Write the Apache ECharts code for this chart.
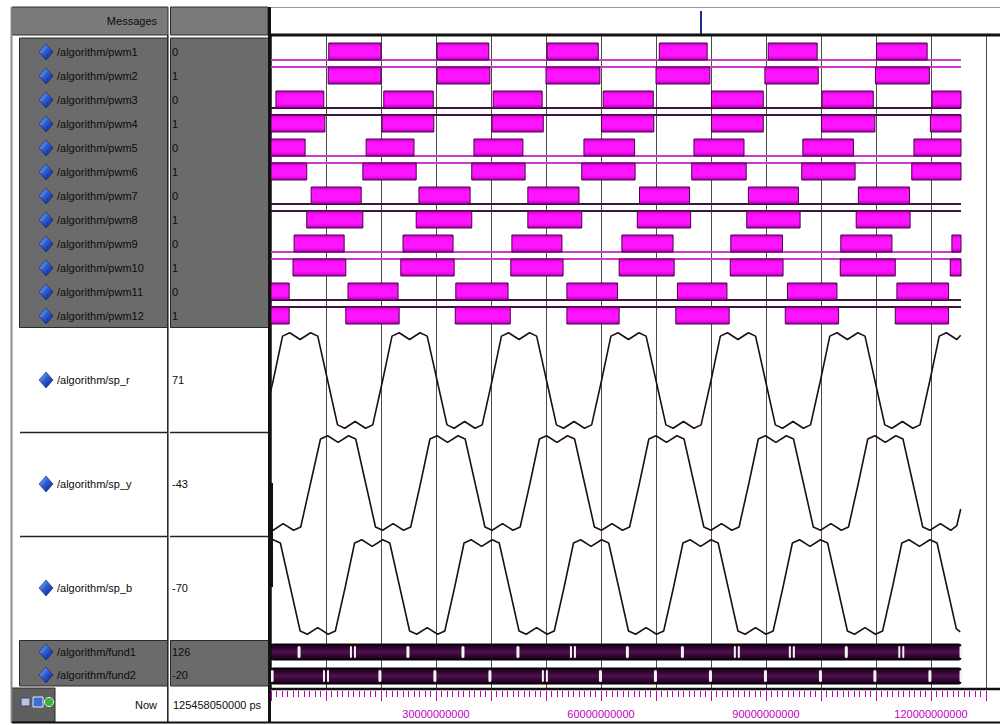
<!DOCTYPE html>
<html>
<head>
<meta charset="utf-8">
<script src="https://cdn.jsdelivr.net/npm/echarts/dist/echarts.min.js"></script>
<style>html,body{margin:0;padding:0;background:#fff}#c{width:1000px;height:725px}</style>
</head>
<body>
<div id="c"></div>
<script>
// ---- data (time unit: 1e9 ps) ----
const nowTime = 125.458;
const nowLabel = '125458050000 ps';
const timeLabelValues = [30, 60, 90, 120];
const pwmNames = ['/algorithm/pwm1','/algorithm/pwm2','/algorithm/pwm3','/algorithm/pwm4','/algorithm/pwm5','/algorithm/pwm6',
  '/algorithm/pwm7','/algorithm/pwm8','/algorithm/pwm9','/algorithm/pwm10','/algorithm/pwm11','/algorithm/pwm12'];
const pwmValues = ['0','1','0','1','0','1','0','1','0','1','0','1'];
const END = nowTime;
const pwm1 = [[10.5,20.0],[30.2,39.6],[50.2,59.5],[70.6,79.3],[90.4,99.3],[110.1,119.3]];
const pwm2 = [[10.4,20.0],[30.2,39.8],[50.0,59.8],[70.0,79.8],[89.8,99.5],[109.9,119.7]];
const pwm3 = [[0.9,9.6],[20.5,29.5],[40.4,49.3],[60.4,69.5],[80.1,89.5],[100.2,109.5],[120.2,END]];
const pwm4 = [[0,9.8],[20.2,29.6],[40.2,49.5],[60.1,69.6],[80.1,89.5],[100.1,109.8],[119.9,END]];
const pwm5 = [[0,6.2],[17.3,26.0],[36.9,45.8],[56.9,66.1],[76.9,86.0],[96.7,105.9],[116.9,END]];
const pwm6 = [[0,6.5],[16.7,26.4],[36.5,46.2],[56.5,66.2],[76.5,86.4],[96.5,106.2],[116.5,END]];
const pwm7 = [[7.3,16.4],[26.9,36.2],[46.7,56.0],[67.0,76.1],[86.8,95.9],[106.8,116.1]];
const pwm8 = [[6.5,16.7],[26.4,36.5],[46.7,56.5],[66.6,76.3],[86.5,96.2],[106.4,116.2]];
const pwm9 = [[4.2,13.3],[24.0,33.1],[43.8,52.9],[63.8,73.1],[83.6,93.0],[103.6,112.9],[123.8,END]];
const pwm10 = [[4.0,13.6],[23.6,33.3],[43.6,53.1],[63.3,73.3],[83.5,93.1],[103.5,113.5],[123.5,END]];
const pwm11 = [[0,3.3],[14.0,23.1],[33.6,43.1],[53.8,63.0],[73.9,82.9],[93.9,102.9],[113.8,123.2]];
const pwm12 = [[0,3.3],[13.6,23.3],[33.5,43.5],[53.8,63.3],[73.6,83.3],[93.5,103.2],[113.5,123.2]];
const pwmBoxes = [pwm1,pwm2,pwm3,pwm4,pwm5,pwm6,pwm7,pwm8,pwm9,pwm10,pwm11,pwm12];

const spNames = ['/algorithm/sp_r','/algorithm/sp_y','/algorithm/sp_b'];
const spValues = ['71','-43','-70'];
const spR = [[-1.5,-93],[0.4,0],[2.1,93],[3.4,100],
[5.3,86],[7.2,100],[8.5,93],[10.3,0],[12.1,-93],[13.4,-100],[15.3,-86],[17.2,-100],[18.5,-93],[20.3,0],[22.0,93],[23.3,100],
[25.2,86],[27.1,100],[28.4,93],[30.2,0],[32.0,-93],[33.3,-100],[35.2,-86],[37.1,-100],[38.4,-93],[40.2,0],[41.9,93],[43.2,100],
[45.1,86],[47.0,100],[48.3,93],[50.1,0],[51.9,-93],[53.2,-100],[55.1,-86],[57.0,-100],[58.3,-93],[60.1,0],[61.8,93],[63.1,100],
[65.0,86],[66.9,100],[68.2,93],[70.0,0],[71.8,-93],[73.1,-100],[75.0,-86],[76.9,-100],[78.2,-93],[80.0,0],[81.7,93],[83.0,100],
[84.9,86],[86.8,100],[88.1,93],[89.9,0],[91.7,-93],[93.0,-100],[94.9,-86],[96.8,-100],[98.1,-93],[99.9,0],[101.6,93],[102.9,100],
[104.8,86],[106.7,100],[108.0,93],[109.8,0],[111.6,-93],[112.9,-100],[114.8,-86],[116.7,-100],[118.0,-93],[119.8,0],[121.5,93],[122.8,100],
[124.7,86],[125.4,95]];
const spY = [[-1.0,-93],[0.4,-100],[2.2,-86],[4.1,-100],[5.4,-93],[7.2,0],[9.0,93],[10.3,100],
[12.2,86],[14.1,100],[15.4,93],[17.2,0],[19.0,-93],[20.3,-100],[22.2,-86],[24.1,-100],[25.4,-93],[27.2,0],[28.9,93],[30.2,100],
[32.1,86],[34.0,100],[35.3,93],[37.1,0],[38.9,-93],[40.2,-100],[42.1,-86],[44.0,-100],[45.3,-93],[47.1,0],[48.8,93],[50.1,100],
[52.0,86],[53.9,100],[55.2,93],[57.0,0],[58.8,-93],[60.1,-100],[62.0,-86],[63.9,-100],[65.2,-93],[67.0,0],[68.7,93],[70.0,100],
[71.9,86],[73.8,100],[75.1,93],[76.9,0],[78.7,-93],[80.0,-100],[81.9,-86],[83.8,-100],[85.1,-93],[86.9,0],[88.6,93],[89.9,100],
[91.8,86],[93.7,100],[95.0,93],[96.8,0],[98.6,-93],[99.9,-100],[101.8,-86],[103.7,-100],[105.0,-93],[106.8,0],[108.5,93],[109.8,100],
[111.7,86],[113.6,100],[114.9,93],[116.7,0],[118.5,-93],[119.8,-100],[121.7,-86],[123.6,-100],[124.7,-90],[125.4,-55]];
const spB = [[-1.5,86],[0.4,100],[1.7,93],[3.5,0],[5.3,-93],[6.6,-100],[8.5,-86],[10.4,-100],[11.7,-93],[13.5,0],[15.2,93],[16.5,100],
[18.4,86],[20.3,100],[21.6,93],[23.4,0],[25.2,-93],[26.5,-100],[28.4,-86],[30.3,-100],[31.6,-93],[33.4,0],[35.1,93],[36.4,100],
[38.3,86],[40.2,100],[41.5,93],[43.3,0],[45.1,-93],[46.4,-100],[48.3,-86],[50.2,-100],[51.5,-93],[53.3,0],[55.0,93],[56.3,100],
[58.2,86],[60.1,100],[61.4,93],[63.2,0],[65.0,-93],[66.3,-100],[68.2,-86],[70.1,-100],[71.4,-93],[73.2,0],[74.9,93],[76.2,100],
[78.1,86],[80.0,100],[81.3,93],[83.1,0],[84.9,-93],[86.2,-100],[88.1,-86],[90.0,-100],[91.3,-93],[93.1,0],[94.8,93],[96.1,100],
[98.0,86],[99.9,100],[101.2,93],[103.0,0],[104.8,-93],[106.1,-100],[108.0,-86],[109.9,-100],[111.2,-93],[113.0,0],[114.7,93],[116.0,100],
[117.9,86],[119.8,100],[121.1,93],[122.9,0],[124.6,-88],[125.3,-95]];

const fundNames = ['/algorithm/fund1','/algorithm/fund2'];
const fundValues = ['126','-20'];
const fund1Marks = [5.1,14.9,24.9,34.9,44.9,54.9,64.8,74.8,84.7,94.7,104.6,114.6];
const fund1Double = [14.9,54.9,84.7,94.7,114.6];
const fund2Marks = [0.2,10.0,19.8,29.8,39.8,49.8,59.9,69.9,79.9,89.9,99.9,109.8,119.8];
const fund2Double = [10.0,49.8];

// ---- chart ----
const FONT = '"Liberation Sans", Arial, sans-serif';
const TMAX = 130;
const WL = 271, WW = 715;
const chart = echarts.init(document.getElementById('c'), null, {renderer: 'svg', width: 1000, height: 725});

const grids = [
  {left: WL, top: 36, width: WW, height: 653},
  {left: WL, top: 40, width: WW, height: 288},
  {left: WL, top: 328, width: WW, height: 105},
  {left: WL, top: 431, width: WW, height: 104},
  {left: WL, top: 535, width: WW, height: 104},
  {left: WL, top: 640, width: WW, height: 48},
  {left: WL, top: 691, width: WW, height: 20}
];
const xAxes = grids.map((g, i) => ({type: 'value', gridIndex: i, min: 0, max: TMAX, interval: 10, show: false}));
xAxes[0] = {type: 'value', gridIndex: 0, min: 0, max: TMAX, interval: 10,
  axisLine: {show: false}, axisTick: {show: false}, axisLabel: {show: false},
  splitLine: {show: true, lineStyle: {color: '#4a4a4a', width: 1}}};
xAxes[6] = {type: 'value', gridIndex: 6, position: 'top', min: 0, max: TMAX, interval: 10,
  axisLine: {show: false, onZero: false},
  axisTick: {show: true, inside: true, length: 10, lineStyle: {color: '#c000c0', width: 1}},
  minorTick: {show: true, splitNumber: 10, length: 6, lineStyle: {color: '#c000c0', width: 1}},
  splitLine: {show: false}, minorSplitLine: {show: false},
  axisLabel: {show: true, inside: true, margin: 17, color: '#c000c0', fontSize: 11, fontFamily: FONT,
    formatter: v => timeLabelValues.includes(v) ? (v * 1e9).toFixed(0) : ''}};
const yAxes = [
  {type: 'value', gridIndex: 0, min: 0, max: 1, show: false},
  {type: 'category', gridIndex: 1, data: pwmNames, inverse: true, show: false},
  {type: 'value', gridIndex: 2, min: -110, max: 110, show: false},
  {type: 'value', gridIndex: 3, min: -110, max: 110, show: false},
  {type: 'value', gridIndex: 4, min: -110, max: 110, show: false},
  {type: 'category', gridIndex: 5, data: fundNames, inverse: true, show: false},
  {type: 'value', gridIndex: 6, min: 0, max: 1, show: false}
];

function clip(shape, params) {
  const cs = params.coordSys;
  return echarts.graphic.clipRectByRect(shape, {x: cs.x, y: cs.y, width: cs.width, height: cs.height});
}
const boxFill = {type: 'linear', x: 0, y: 0, x2: 0, y2: 1, colorStops: [
  {offset: 0, color: '#c800c8'}, {offset: 0.25, color: '#ff14ff'}, {offset: 0.75, color: '#ff14ff'}, {offset: 1, color: '#b000b0'}]};
const fundFill = {type: 'linear', x: 0, y: 0, x2: 0, y2: 1, colorStops: [
  {offset: 0, color: '#0c000c'}, {offset: 0.3, color: '#3a0638'}, {offset: 0.5, color: '#4e1250'}, {offset: 0.7, color: '#3a0638'}, {offset: 1, color: '#0c000c'}]};

const series = [
  { // pwm level lines
    type: 'custom', xAxisIndex: 1, yAxisIndex: 1, z: 2, silent: true,
    encode: {x: [0, 1], y: 2},
    data: pwmNames.map((n, i) => [0, nowTime, i]),
    renderItem: (params, api) => {
      const i = api.value(2);
      const a = api.coord([api.value(0), i]), b = api.coord([api.value(1), i]);
      const y = a[1] + (i % 2 === 0 ? 8 : -9);
      const col = Math.floor(i / 2) % 2 === 0 ? '#cc3ccc' : '#3a183a';
      return {type: 'line', shape: {x1: a[0], y1: y, x2: b[0], y2: y}, style: {stroke: col, lineWidth: 2}};
    }
  },
  { // pwm high boxes
    type: 'custom', xAxisIndex: 1, yAxisIndex: 1, z: 3, silent: true,
    encode: {x: [0, 1], y: 2},
    data: pwmBoxes.flatMap((list, i) => list.map(([s, e]) => [s, e, i])),
    renderItem: (params, api) => {
      const i = api.value(2);
      const a = api.coord([api.value(0), i]), b = api.coord([api.value(1), i]);
      const shape = clip({x: a[0], y: a[1] - 9, width: b[0] - a[0], height: 17}, params);
      if (!shape) return null;
      return {type: 'rect', shape, style: {fill: boxFill, stroke: '#4a004a', lineWidth: 1}};
    }
  },
  ...[spR, spY, spB].map((d, k) => ({
    type: 'line', xAxisIndex: 2 + k, yAxisIndex: 2 + k, data: d, symbol: 'none', showSymbol: false,
    clip: true, silent: true, z: 3, lineStyle: {color: '#1e0c1e', width: 1.6}
  })),
  { // fund bars
    type: 'custom', xAxisIndex: 5, yAxisIndex: 5, z: 3, silent: true,
    encode: {x: [0, 1], y: 2},
    data: fundNames.map((n, i) => [0, nowTime, i]),
    renderItem: (params, api) => {
      const i = api.value(2);
      const a = api.coord([api.value(0), i]), b = api.coord([api.value(1), i]);
      const shape = clip({x: a[0], y: a[1] - 8, width: b[0] - a[0], height: 16}, params);
      if (!shape) return null;
      return {type: 'group', children: [
        {type: 'rect', shape: Object.assign({r: 2}, shape), style: {fill: fundFill, stroke: '#000', lineWidth: 1}},
        {type: 'rect', shape: {x: b[0] - 1.5, y: a[1] - 6, width: 3, height: 12, r: 1.5}, style: {fill: '#f4f4f4'}}
      ]};
    }
  },
  { // fund value-change markers
    type: 'custom', xAxisIndex: 5, yAxisIndex: 5, z: 4, silent: true,
    encode: {x: 0, y: 1},
    data: fund1Marks.map(t => [t, 0, fund1Double.includes(t) ? 1 : 0])
      .concat(fund2Marks.map(t => [t, 1, fund2Double.includes(t) ? 1 : 0])),
    renderItem: (params, api) => {
      const p = api.coord([api.value(0), api.value(1)]);
      if (api.value(2)) {
        return {type: 'group', children: [
          {type: 'rect', shape: {x: p[0] - 3, y: p[1] - 6, width: 2, height: 12, r: 1}, style: {fill: '#f4f4f4'}},
          {type: 'rect', shape: {x: p[0] + 1, y: p[1] - 6, width: 2, height: 12, r: 1}, style: {fill: '#f4f4f4'}}
        ]};
      }
      return {type: 'rect', shape: {x: p[0] - 1.5, y: p[1] - 6, width: 3, height: 12, r: 1.5}, style: {fill: '#f4f4f4'}};
    }
  }
];

// ---- left panel / frame chrome ----
const txt = (text, x, y, align, color) => ({type: 'text', silent: true, z: 10,
  style: {text, x, y, fill: color || '#0c0c0c', font: '11px ' + FONT,
    align: align, verticalAlign: 'middle', textAlign: align, textVerticalAlign: 'middle'}});
const line = (x1, y1, x2, y2, stroke, w) => ({type: 'line', silent: true, z: 9,
  shape: {x1, y1, x2, y2}, style: {stroke, lineWidth: w}});
const rect = (x, y, w, h, fill, stroke) => ({type: 'rect', silent: true, z: 8,
  shape: {x, y, width: w, height: h}, style: {fill, stroke: stroke || null, lineWidth: 1}});
const diaFill = {type: 'linear', x: 0, y: 0, x2: 1, y2: 1, colorStops: [
  {offset: 0, color: '#a8c6ff'}, {offset: 0.45, color: '#2f5fd8'}, {offset: 1, color: '#0a1a70'}]};
const diamond = (cx, cy) => ({type: 'polygon', silent: true, z: 10,
  shape: {points: [[cx, cy - 8], [cx + 7, cy], [cx, cy + 8], [cx - 7, cy]]},
  style: {fill: diaFill, stroke: '#0d1b66', lineWidth: 0.6}});

const G = [];
// header
G.push(line(271, 7.5, 1000, 7.5, '#9a9a9a', 1));
G.push(rect(12, 7, 156, 28, '#7a7a7a', '#2e2e2e'));
G.push(rect(170.5, 7, 97.5, 28, '#7a7a7a', '#2e2e2e'));
G.push(txt('Messages', 157, 21, 'right'));
G.push(line(701, 11, 701, 34, '#1c2c8c', 2));
// frame lines
G.push(line(11.5, 7, 11.5, 723, '#8c8c8c', 2));
G.push(line(167.8, 35, 167.8, 723, '#2a2a2a', 1.6));
// pwm group
G.push(rect(19.5, 38, 148, 289.5, '#6b6b6b', '#2a2a2a'));
G.push(rect(170.5, 38, 98, 289.5, '#6b6b6b', '#2a2a2a'));
// sp separators
[432.5, 536.5].forEach(y => { G.push(line(20, y, 167, y, '#222', 1.5)); G.push(line(170, y, 268, y, '#222', 1.5)); });
// fund group
G.push(rect(19.5, 640.5, 148, 45.5, '#6b6b6b', '#2a2a2a'));
G.push(rect(170.5, 640.5, 98, 45.5, '#6b6b6b', '#2a2a2a'));
// pane separator + horizontal frame lines
G.push(line(269.5, 7, 269.5, 723, '#111', 3));
G.push(line(271.5, 483, 271.5, 587, '#111', 3));
G.push(line(268, 35, 1000, 35, '#111', 3));
G.push(line(271, 689, 1000, 689, '#111', 2.5));
G.push(line(12, 722.5, 1000, 722.5, '#111', 2));
// rows: names, values, icons
pwmNames.forEach((n, i) => {
  const y = 52 + 24 * i;
  G.push(diamond(46, y));
  G.push(txt(n, 57, y, 'left'));
  G.push(txt(pwmValues[i], 172, y, 'left'));
});
[380, 484, 588].forEach((y, k) => {
  G.push(diamond(46, y));
  G.push(txt(spNames[k], 57, y, 'left'));
  G.push(txt(spValues[k], 172, y, 'left'));
});
[652, 675].forEach((y, k) => {
  G.push(diamond(46, y));
  G.push(txt(fundNames[k], 57, y, 'left'));
  G.push(txt(fundValues[k], 172, y, 'left'));
});
// Now row
G.push(rect(12, 688, 43, 34, '#5f5f5f', '#2a2a2a'));
G.push(rect(21, 698, 9, 8, '#b8c4d8', '#3a4a6a'));
G.push(rect(33, 697, 10, 10, '#3b6fd0', '#e0e8ff'));
G.push({type: 'circle', silent: true, z: 10, shape: {cx: 49, cy: 702, r: 4.5}, style: {fill: '#3cb043', stroke: '#dff5df', lineWidth: 1}});
G.push(line(46.5, 702, 51.5, 702, '#ffffff', 1.5));
G.push(line(49, 699.5, 49, 704.5, '#ffffff', 1.5));
G.push(txt('Now', 157, 705, 'right'));
G.push(txt(nowLabel, 173, 705, 'left'));

chart.setOption({
  animation: false,
  backgroundColor: '#ffffff',
  grid: grids,
  xAxis: xAxes,
  yAxis: yAxes,
  series: series,
  graphic: {elements: G}
});
</script>
</body>
</html>
